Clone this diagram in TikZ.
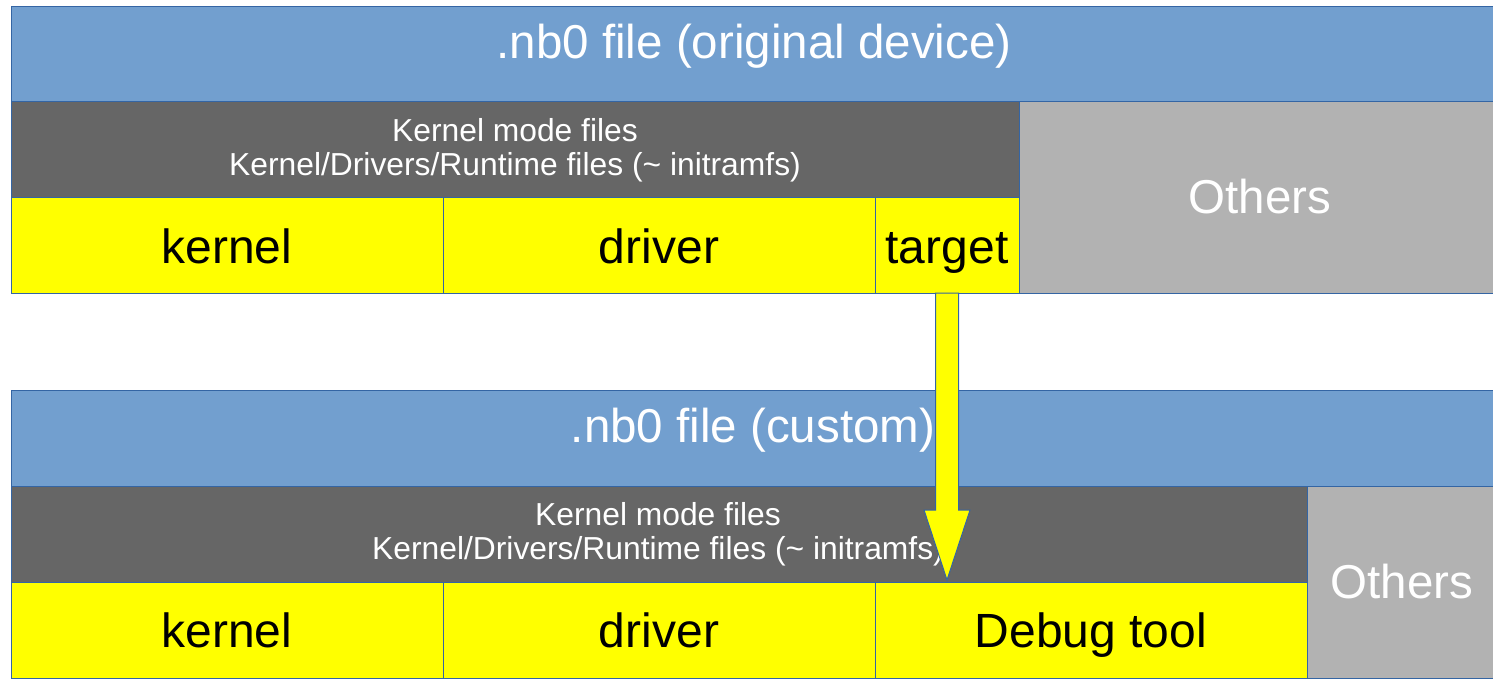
\documentclass[tikz,border=0pt]{standalone}
\usepackage{fontspec}
\setmainfont{Liberation Sans}
\usetikzlibrary{calc}
\definecolor{bord}{HTML}{3465A4}
\definecolor{skyb}{HTML}{729FCF}
\definecolor{darkg}{HTML}{666666}
\definecolor{lightg}{HTML}{B2B2B2}
\definecolor{yel}{HTML}{FFFF00}
\tikzset{
  box/.style={draw=bord, line width=1pt, inner sep=0pt, outer sep=0pt, anchor=north west},
  bluebox/.style={box, fill=skyb},
  darkbox/.style={box, fill=darkg},
  greybox/.style={box, fill=lightg},
  yelbox/.style={box, fill=yel},
  lbl/.style={anchor=base, inner sep=0pt},
  titletxt/.style={lbl, text=white, font=\fontsize{47.5}{55}\selectfont},
  smalltxt/.style={lbl, text=white, font=\fontsize{31.8}{36}\selectfont},
  othertxt/.style={lbl, text=white, font=\fontsize{47.5}{55}\selectfont},
  parttxt/.style={lbl, text=black, font=\fontsize{48}{56}\selectfont},
  bigarrow/.style={draw=bord, line width=1pt, fill=yel, line join=miter}
}
\begin{document}
\begin{tikzpicture}[x=1pt,y=-1pt]
\useasboundingbox (0,0) rectangle (1493,678);
\clip (0,0) rectangle (1493,678);
% top block
\node[bluebox, minimum width=1500pt, minimum height=95pt] (t1) at (11,6) {};
\node[darkbox, minimum width=1008pt, minimum height=96pt] (k1) at (11,101) {};
\node[greybox, minimum width=480pt, minimum height=192pt] (o1) at (1019,101) {};
\node[yelbox, minimum width=432pt, minimum height=96pt] (kern1) at (11,197) {};
\node[yelbox, minimum width=432pt, minimum height=96pt] (drv1) at (443,197) {};
\node[yelbox, minimum width=144pt, minimum height=96pt] (target) at (875,197) {};
\node[titletxt] (t1txt) at (754,58) {.nb0 file (original device)};
\node[smalltxt] (k1a) at (515,141) {Kernel mode files};
\node[smalltxt] (k1b) at (515,175) {Kernel/Drivers/Runtime files (\char"7E{} initramfs)};
\node[othertxt] (o1txt) at (1260,213) {Others};
\node[parttxt] (kern1txt) at (227,263) {kernel};
\node[parttxt] (drv1txt) at (659,263) {driver};
\node[parttxt] (targettxt) at (947,263) {target};
% bottom block
\node[bluebox, minimum width=1500pt, minimum height=96pt] (t2) at (11,390) {};
\node[darkbox, minimum width=1296pt, minimum height=96pt] (k2) at (11,486) {};
\node[greybox, minimum width=200pt, minimum height=192pt] (o2) at (1307,486) {};
\node[yelbox, minimum width=432pt, minimum height=96pt] (kern2) at (11,582) {};
\node[yelbox, minimum width=432pt, minimum height=96pt] (drv2) at (443,582) {};
\node[yelbox, minimum width=432pt, minimum height=96pt] (dbg) at (875,582) {};
\node[titletxt] (t2txt) at (753,442) {.nb0 file (custom)};
\node[smalltxt] (k2a) at (658,525) {Kernel mode files};
\node[smalltxt] (k2b) at (658,559) {Kernel/Drivers/Runtime files (\char"7E{} initramfs)};
\node[othertxt] (o2txt) at (1402,598) {Others};
\node[parttxt] (kern2txt) at (227,647) {kernel};
\node[parttxt] (drv2txt) at (659,647) {driver};
\node[parttxt] (dbgtxt) at (1091,647) {Debug tool};
% arrow
\coordinate (as) at (target.south);
\coordinate (tip) at ($(as)+(0,287)$);
\draw[bigarrow] ($(as)+(-11.5,0)$) -- ($(as)+(-11.5,217)$) -- ($(as)+(-23,217)$)
  -- (tip) -- ($(as)+(23,217)$) -- ($(as)+(11.5,217)$) -- ($(as)+(11.5,0)$) -- cycle;
\end{tikzpicture}
\end{document}
